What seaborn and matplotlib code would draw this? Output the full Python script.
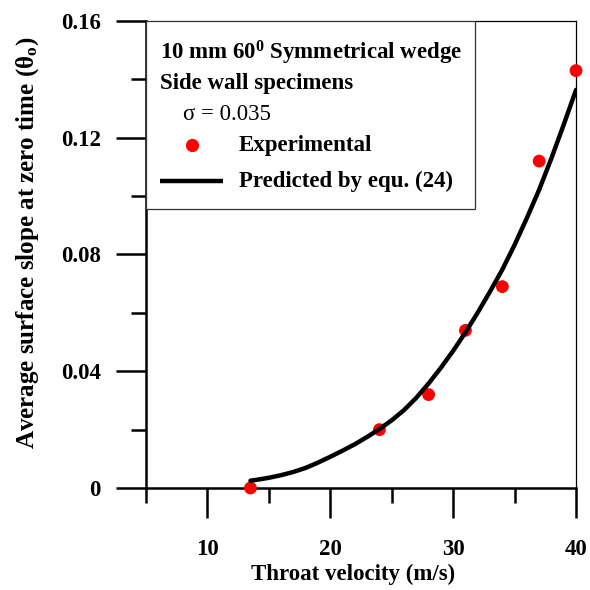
import numpy as np
import pandas as pd
import matplotlib
matplotlib.use("Agg")
import matplotlib.pyplot as plt
from matplotlib.ticker import MultipleLocator
from matplotlib.patches import Rectangle
import seaborn as sns

# Experimental points
exp_velocity = [13.5, 24, 28, 31, 34, 37, 40]
exp_slope = [0.0, 0.020, 0.032, 0.054, 0.069, 0.112, 0.143]

# Predicted curve, equ. (24)
pred_velocity = [13.5, 14, 15, 16, 17, 18, 19, 20, 21, 22, 23, 24, 25, 26, 27,
                 28, 29, 30, 31, 32, 33, 34, 35, 36, 37, 38, 39, 40]
pred_slope = [0.0025, 0.0028, 0.0035, 0.0044, 0.0055, 0.0069, 0.0087, 0.0107,
              0.0128, 0.0150, 0.0175, 0.0202, 0.0232, 0.0267, 0.0309, 0.0358,
              0.0412, 0.0470, 0.0533, 0.0601, 0.0673, 0.0748, 0.0833, 0.0925,
              0.1022, 0.1130, 0.1245, 0.1364]

x_ticks = [10, 20, 30, 40]
y_ticks = [0, 0.04, 0.08, 0.12, 0.16]
y_tick_labels = ["0", "0.04", "0.08", "0.12", "0.16"]

sns.set_style("ticks")
serif = ["Liberation Serif", "DejaVu Serif"]
plt.rcParams["font.family"] = serif
plt.rcParams["mathtext.fontset"] = "custom"
plt.rcParams["mathtext.rm"] = "Liberation Serif"
plt.rcParams["mathtext.it"] = "Liberation Serif:italic"
plt.rcParams["mathtext.bf"] = "Liberation Serif:bold"
for key in ["text.color", "axes.labelcolor", "xtick.color", "ytick.color",
            "axes.edgecolor"]:
    plt.rcParams[key] = "black"

FS = 16.5

fig = plt.figure(figsize=(5.9, 5.9), dpi=100)
ax = fig.add_axes([0.2475, 0.1729, 0.7288, 0.7915])

exp_df = pd.DataFrame({"v": exp_velocity, "s": exp_slope})
pred_df = pd.DataFrame({"v": pred_velocity, "s": pred_slope})

sns.scatterplot(data=exp_df, x="v", y="s", ax=ax, color="#ff0000", s=85,
                edgecolor="none", zorder=3, clip_on=False)
sns.lineplot(data=pred_df, x="v", y="s", ax=ax, color="black", lw=3.2,
             zorder=4, sort=True)

ax.set_xlim(5, 40)
ax.set_ylim(0, 0.16)
ax.xaxis.set_minor_locator(MultipleLocator(5))
ax.yaxis.set_minor_locator(MultipleLocator(0.02))
ax.set_xticks(x_ticks)
ax.set_yticks(y_ticks)
ax.set_yticklabels(y_tick_labels)

ax.tick_params(which="major", direction="out", length=21.5, width=1.8,
               labelsize=FS, color="black", labelcolor="black")
ax.tick_params(which="minor", direction="out", length=11, width=1.8, color="black")
ax.tick_params(axis="x", which="major", pad=15)
ax.tick_params(axis="y", which="major", pad=11)
for lab in ax.get_xticklabels() + ax.get_yticklabels():
    lab.set_fontweight("bold")

for side in ["left", "bottom"]:
    ax.spines[side].set_linewidth(1.8)
    ax.spines[side].set_color("black")
for side in ["top", "right"]:
    ax.spines[side].set_visible(True)
    ax.spines[side].set_linewidth(0.9)
    ax.spines[side].set_color("black")

ax.set_xlabel("Throat velocity (m/s)", fontsize=FS, fontweight="bold", color="black")
ax.xaxis.set_label_coords(0.482, -0.163)
ax.set_ylabel(r"Average surface slope at zero time ($\mathbf{\theta_o}$)",
              fontsize=18, fontweight="bold", color="black")
ax.yaxis.set_label_coords(-0.245, 0.525)

# Legend panel
ax.add_patch(Rectangle((0.0, 0.598), 0.765, 0.402, transform=ax.transAxes,
                       facecolor="white", edgecolor="#333333", lw=0.9, zorder=5))
ax.text(0.033, 0.931, r"10 mm 60$^{\mathbf{0}}$ Symmetrical wedge",
        transform=ax.transAxes, fontsize=FS, fontweight="bold",
        va="center", ha="left", zorder=6, color="black")
ax.text(0.033, 0.867, "Side wall specimens", transform=ax.transAxes,
        fontsize=FS, fontweight="bold", va="center", ha="left", zorder=6,
        color="black")
ax.text(0.086, 0.799, "\u03c3 = 0.035", transform=ax.transAxes,
        fontsize=FS, va="center", ha="left", zorder=6, color="black")

# legend keys
ax.plot([0.107], [0.734], ls="none", marker="o", color="#ff0000", markersize=9.5,
        markeredgewidth=0, transform=ax.transAxes, zorder=6, clip_on=False)
ax.plot([0.033, 0.179], [0.657, 0.657], color="black", lw=3.2,
        transform=ax.transAxes, zorder=6, solid_capstyle="butt")
ax.text(0.216, 0.734, "Experimental", transform=ax.transAxes,
        fontsize=FS, fontweight="bold", va="center", ha="left", zorder=6,
        color="black")
ax.text(0.216, 0.657, "Predicted by equ. (24)", transform=ax.transAxes,
        fontsize=FS, fontweight="bold", va="center", ha="left", zorder=6,
        color="black")

fig.savefig("out.png", dpi=100)
